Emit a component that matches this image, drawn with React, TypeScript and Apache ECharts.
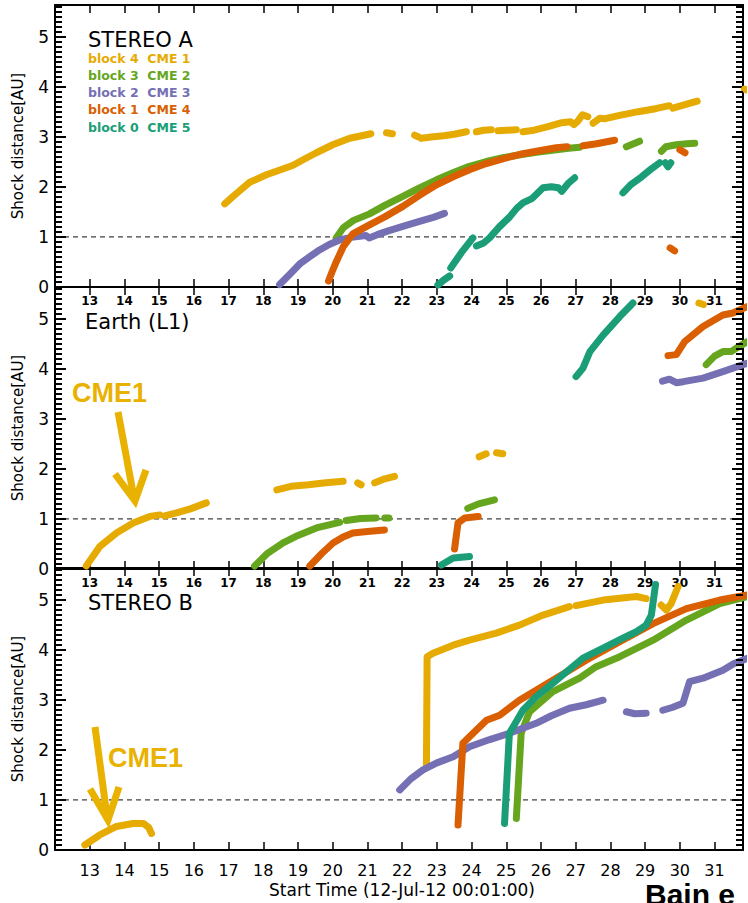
import React, { useEffect, useRef } from 'react';
import * as echarts from 'echarts';

type Pt = [number, number];
type Seg = Pt[];

// ---------- axes / labels ----------
const dayTicks = [13, 14, 15, 16, 17, 18, 19, 20, 21, 22, 23, 24, 25, 26, 27, 28, 29, 30, 31];
const dayTickLabels = dayTicks.map(String);
const auTicks = [0, 1, 2, 3, 4, 5];
const auTickLabels = ['0', '1', '2', '3', '4', '5'];
const X_MIN = 12;
const X_MAX = 31.82;
const Y_MIN = 0;
const Y_MAX = 5.63;
const MINOR_STEP = 0.1;
const REF_LEVEL = 1;
const yTitle = 'Shock distance[AU]';
const xTitle = 'Start Time (12-Jul-12 00:01:00)';
const panelTitles = ['STEREO A', 'Earth (L1)', 'STEREO B'];
const legendLabels = ['block 4  CME 1', 'block 3  CME 2', 'block 2  CME 3', 'block 1  CME 4', 'block 0  CME 5'];
const cmeColors = ['#E6AB02', '#66A61E', '#7570B3', '#D95F02', '#1B9E77'];
const annotationText = 'CME1';
const citation = 'Bain e';

// minor tick positions on the distance axis (every 0.1 AU, skipping integers)
const minorAuTicks: number[] = [];
for (let k = 1; k * MINOR_STEP < Y_MAX; k++) {
  if (k % 10 !== 0) minorAuTicks.push(Math.round(k * MINOR_STEP * 100) / 100);
}

// ---------- STEREO A ----------
const stA_cme1: Seg[] = [
  [[16.89, 1.66], [17.13, 1.81], [17.4, 1.97], [17.61, 2.09], [18.09, 2.24], [18.5, 2.34], [18.86, 2.43], [19.2, 2.56], [19.53, 2.68], [20.0, 2.84], [20.49, 2.97], [20.97, 3.04], [21.1, 3.06]],
  [[21.55, 3.08], [21.72, 3.06]],
  [[22.36, 3.03], [22.46, 3.0]],
  [[22.55, 2.97], [22.9, 3.0], [23.2, 3.02], [23.5, 3.05], [23.85, 3.1]],
  [[24.14, 3.1], [24.35, 3.13], [24.57, 3.14]],
  [[24.76, 3.12], [25.0, 3.13], [25.29, 3.14]],
  [[25.48, 3.1], [25.8, 3.13], [26.2, 3.2], [26.6, 3.28], [26.85, 3.3], [26.95, 3.24], [27.05, 3.3], [27.2, 3.44], [27.35, 3.4]],
  [[27.5, 3.27], [27.7, 3.37], [27.85, 3.36], [28.3, 3.43], [28.8, 3.5], [29.3, 3.56], [29.7, 3.62]],
  [[29.8, 3.57], [30.1, 3.63], [30.5, 3.71]],
  [[31.86, 3.95], [31.95, 3.93]],
];
const stA_cme2: Seg[] = [
  [[20.1, 0.98], [20.3, 1.18], [20.6, 1.33], [21.06, 1.46], [21.5, 1.63], [22.02, 1.81], [22.5, 1.98], [22.99, 2.14], [23.5, 2.29], [23.94, 2.41], [24.4, 2.5], [24.9, 2.58], [25.4, 2.64], [25.87, 2.69], [26.44, 2.74], [26.8, 2.77], [27.11, 2.79]],
  [[28.46, 2.8], [28.84, 2.91]],
  [[29.47, 2.71], [29.6, 2.8], [29.9, 2.84], [30.2, 2.86], [30.43, 2.87]],
];
const stA_cme3: Seg[] = [
  [[18.47, 0.05], [18.8, 0.28], [19.05, 0.46], [19.35, 0.61], [19.62, 0.74], [19.9, 0.85], [20.2, 0.94], [20.6, 1.0], [20.95, 1.03], [21.05, 0.98], [21.3, 1.05], [21.6, 1.12], [22.02, 1.21], [22.5, 1.31], [22.9, 1.39], [23.22, 1.47]],
];
const stA_cme4: Seg[] = [
  [[19.88, 0.12], [19.98, 0.3], [20.1, 0.5], [20.3, 0.8], [20.58, 1.06], [21.06, 1.24], [21.5, 1.4], [22.02, 1.61], [22.5, 1.83], [22.99, 2.04], [23.5, 2.21], [23.94, 2.34], [24.4, 2.46], [24.9, 2.56], [25.4, 2.65], [25.87, 2.71], [26.44, 2.78], [26.75, 2.8]],
  [[27.21, 2.82], [27.6, 2.86], [28.12, 2.93]],
  [[29.72, 0.78], [29.85, 0.72]],
  [[30.0, 2.74], [30.15, 2.68]],
];
const stA_cme5: Seg[] = [
  [[23.03, 0.04], [23.2, 0.14], [23.37, 0.22]],
  [[23.4, 0.38], [23.7, 0.68], [24.04, 0.98]],
  [[24.14, 0.82], [24.35, 0.88], [24.52, 0.98], [24.8, 1.2], [25.1, 1.4], [25.3, 1.57], [25.48, 1.68], [25.75, 1.77], [26.06, 1.98], [26.3, 2.0], [26.5, 1.98], [26.6, 1.91], [26.8, 2.08], [26.97, 2.18]],
  [[28.36, 1.88], [28.6, 2.05], [28.9, 2.2], [29.2, 2.37], [29.42, 2.48]],
  [[29.58, 2.48], [29.66, 2.4], [29.74, 2.48]],
];

// ---------- Earth (L1) ----------
const earth_cme1: Seg[] = [
  [[12.9, 0.06], [13.29, 0.45], [13.77, 0.72], [14.25, 0.92], [14.73, 1.05], [15.02, 1.08]],
  [[15.16, 1.06], [15.5, 1.12], [15.9, 1.2], [16.36, 1.32]],
  [[18.39, 1.58], [18.8, 1.65], [19.3, 1.68], [19.8, 1.72], [20.3, 1.75]],
  [[20.72, 1.72], [20.82, 1.68]],
  [[21.21, 1.72], [21.5, 1.8], [21.78, 1.85]],
  [[24.22, 2.24], [24.42, 2.3]],
  [[24.72, 2.32], [24.9, 2.3]],
  [[30.55, 5.31], [30.68, 5.28]],
];
const earth_cme2: Seg[] = [
  [[17.75, 0.06], [18.1, 0.3], [18.57, 0.52], [19.0, 0.67], [19.53, 0.82], [20.2, 0.93]],
  [[20.39, 0.97], [20.8, 1.01], [21.25, 1.02]],
  [[21.5, 1.02], [21.62, 1.02]],
  [[23.89, 1.21], [24.2, 1.3], [24.66, 1.38]],
  [[30.76, 4.08], [31.0, 4.25], [31.24, 4.34], [31.48, 4.34], [31.63, 4.41], [31.95, 4.54]],
];
const earth_cme3: Seg[] = [
  [[29.5, 3.75], [29.7, 3.79], [29.9, 3.72], [30.1, 3.74], [30.67, 3.81], [31.24, 3.94], [31.95, 4.11]],
];
const earth_cme4: Seg[] = [
  [[19.34, 0.06], [19.7, 0.32], [20.01, 0.52], [20.3, 0.64], [20.58, 0.72], [21.0, 0.75], [21.49, 0.78]],
  [[23.51, 0.4], [23.61, 0.92], [23.81, 1.02], [24.19, 1.05]],
  [[29.66, 4.26], [29.9, 4.28], [30.14, 4.54], [30.67, 4.84], [31.24, 5.07], [31.53, 5.11], [31.95, 5.24]],
];
const earth_cme5: Seg[] = [
  [[23.13, 0.08], [23.47, 0.22], [23.94, 0.25]],
  [[27.01, 3.84], [27.21, 4.01], [27.41, 4.34], [27.79, 4.67], [28.27, 5.04], [28.65, 5.31]],
];

// ---------- STEREO B ----------
const stB_cme1: Seg[] = [
  [[12.86, 0.1], [13.29, 0.3], [13.77, 0.47], [14.25, 0.53], [14.55, 0.53], [14.7, 0.45], [14.78, 0.33]],
  [[22.7, 1.7], [22.72, 3.86], [22.89, 3.93], [23.47, 4.09], [23.94, 4.19], [24.71, 4.33], [25.38, 4.49], [26.06, 4.69], [26.82, 4.86]],
  [[27.01, 4.88], [27.79, 4.99], [28.75, 5.06], [29.03, 5.02]],
  [[29.46, 4.89], [29.61, 4.79], [29.75, 4.92], [29.95, 5.26]],
];
const stB_cme2: Seg[] = [
  [[25.29, 0.63], [25.43, 2.33], [25.67, 2.76], [26.34, 3.16], [27.11, 3.43], [27.59, 3.66], [28.27, 3.86], [29.23, 4.19], [30.19, 4.59], [31.15, 4.92], [31.95, 5.06]],
];
const stB_cme3: Seg[] = [
  [[21.93, 1.2], [22.25, 1.42], [22.6, 1.6], [23.0, 1.74], [23.47, 1.86], [23.94, 2.06], [24.5, 2.2], [25.09, 2.33], [25.86, 2.53], [26.3, 2.68], [26.82, 2.83], [27.3, 2.9], [27.79, 2.99]],
  [[28.46, 2.76], [28.7, 2.72], [29.03, 2.73]],
  [[29.51, 2.79], [29.8, 2.85], [30.09, 2.93], [30.28, 3.36], [30.67, 3.43], [31.24, 3.59], [31.55, 3.72], [31.95, 3.83]],
];
const stB_cme4: Seg[] = [
  [[23.61, 0.5], [23.75, 2.13], [23.94, 2.26], [24.43, 2.59], [24.81, 2.69], [25.38, 2.99], [26.34, 3.39], [27.3, 3.79], [28.27, 4.16], [29.23, 4.52], [30.19, 4.82], [31.15, 4.99], [31.95, 5.09]],
];
const stB_cme5: Seg[] = [
  [[24.95, 0.53], [25.09, 2.33], [25.48, 2.79], [25.86, 3.06], [26.34, 3.33], [27.21, 3.83], [27.79, 4.03], [28.36, 4.23], [28.75, 4.36], [29.03, 4.49], [29.18, 4.69], [29.3, 5.3]],
];

const panelData: Seg[][][] = [
  [stA_cme1, stA_cme2, stA_cme3, stA_cme4, stA_cme5],
  [earth_cme1, earth_cme2, earth_cme3, earth_cme4, earth_cme5],
  [stB_cme1, stB_cme2, stB_cme3, stB_cme4, stB_cme5],
];

// ---------- layout ----------
const GRID_LEFT = 55;
const GRID_W = 688;
const GRID_H = 282;
const gridTops = [5, 287, 568];
const FONT = 'DejaVu Sans';
const GOLD = '#E9B100';
const MINOR_LEN = 7;

function txt(x: number, y: number, text: string, fill: string, fontSize: number, fontWeight = 'normal', fontFamily = FONT, align = 'left') {
  return {
    type: 'text', x, y, silent: true, z: 50,
    style: { text, fill, fontSize, fontWeight, fontFamily, textAlign: align, textVerticalAlign: 'middle' },
  };
}
function arrowLine(points: number[][]) {
  return {
    type: 'polyline', silent: true, z: 50,
    shape: { points },
    style: { stroke: GOLD, lineWidth: 7, fill: null, lineJoin: 'miter', lineCap: 'butt' },
  };
}

function baseGraphic(): any[] {
  return [
    txt(88, 40, panelTitles[0], '#000', 21),
    txt(85, 322, panelTitles[1], '#000', 21),
    txt(88, 603, panelTitles[2], '#000', 21),
    ...legendLabels.map((l, i) => txt(88, 58 + i * 17.3, l, cmeColors[i], 12.5, 'bold')),
    txt(402, 890, xTitle, '#000', 17, 'normal', FONT, 'center'),
    txt(72, 393, annotationText, GOLD, 27, 'bold', 'Liberation Sans'),
    arrowLine([[118, 412], [134, 498]]),
    arrowLine([[115, 474], [135, 501], [146, 470]]),
    txt(108, 758, annotationText, GOLD, 27, 'bold', 'Liberation Sans'),
    arrowLine([[95, 727], [107, 816]]),
    arrowLine([[90, 789], [108, 820], [119, 787]]),
    txt(645, 894, citation, '#000', 30, 'bold', 'Liberation Sans'),
  ];
}

function buildOption() {
  const grid = gridTops.map((t) => ({ left: GRID_LEFT, top: t, width: GRID_W, height: GRID_H }));
  const xFmt = (v: number) => {
    const r = Math.round(v);
    const i = dayTicks.indexOf(r);
    return Math.abs(v - r) < 1e-6 && i >= 0 ? dayTickLabels[i] : '';
  };
  const yFmt = (v: number) => {
    const r = Math.round(v);
    const i = auTicks.indexOf(r);
    return Math.abs(v - r) < 1e-6 && i >= 0 ? auTickLabels[i] : '';
  };
  const xAxis: any[] = [];
  const yAxis: any[] = [];
  gridTops.forEach((_, i) => {
    const isLast = i === gridTops.length - 1;
    const base = {
      type: 'value', gridIndex: i, min: X_MIN, max: X_MAX, interval: 1,
      splitLine: { show: false },
      axisLine: { show: true, onZero: false, lineStyle: { color: '#000', width: 2 } },
      axisTick: { show: true, inside: true, length: 8, lineStyle: { color: '#000', width: 1.5 } },
    };
    xAxis.push({
      ...base, position: 'bottom',
      axisLabel: {
        show: true, margin: isLast ? 12 : 8, fontSize: isLast ? 16 : 12,
        fontWeight: isLast ? 'normal' : 'bold', color: '#000', fontFamily: FONT, formatter: xFmt,
      },
    });
    xAxis.push({ ...base, position: 'top', axisLabel: { show: false } });

    const yBase = {
      type: 'value', gridIndex: i, min: Y_MIN, max: Y_MAX, interval: 1, splitLine: { show: false },
      axisLine: { show: true, onZero: false, lineStyle: { color: '#000', width: 2 } },
      axisTick: { show: true, inside: true, length: 11, lineStyle: { color: '#000', width: 2 } },
    };
    yAxis.push({
      ...yBase, position: 'left',
      axisLabel: { show: true, fontSize: 17, color: '#000', fontFamily: FONT, margin: 6, formatter: yFmt },
      name: yTitle, nameLocation: 'middle', nameGap: 30,
      nameTextStyle: { fontSize: 15, color: '#000', fontFamily: FONT },
    });
    yAxis.push({ ...yBase, position: 'right', axisLabel: { show: false } });
  });

  const series: any[] = [];
  panelData.forEach((cmes, p) => {
    series.push({
      type: 'line', xAxisIndex: 2 * p, yAxisIndex: 2 * p, silent: true,
      data: [[X_MIN, REF_LEVEL], [X_MAX, REF_LEVEL]], symbol: 'none',
      lineStyle: { color: '#111', width: 1, type: [5, 4] }, z: 1,
    });
    cmes.forEach((segs, c) => {
      segs.forEach((seg) => {
        series.push({
          type: 'line', name: legendLabels[c], xAxisIndex: 2 * p, yAxisIndex: 2 * p,
          data: seg, symbol: 'none', clip: false, silent: true, z: 2 + c,
          lineStyle: { color: cmeColors[c], width: 7, cap: 'round', join: 'round' },
        });
      });
    });
  });

  return { animation: false, backgroundColor: '#fff', grid, xAxis, yAxis, series, graphic: baseGraphic() };
}

export default function App() {
  const ref = useRef<HTMLDivElement>(null);
  useEffect(() => {
    const chart = echarts.init(ref.current!, null, { renderer: 'svg' });
    chart.setOption(buildOption() as any);
    // minor ticks (every 0.1 AU) on the left and right frames, placed through the axes' scales
    const ticks: any[] = [];
    gridTops.forEach((_, p) => {
      minorAuTicks.forEach((v) => {
        const l = chart.convertToPixel({ gridIndex: p } as any, [X_MIN, v]) as number[];
        const r = chart.convertToPixel({ gridIndex: p } as any, [X_MAX, v]) as number[];
        if (!l || !r) return;
        const y = Math.round(l[1]);
        ticks.push({
          type: 'line', silent: true, z: 40,
          shape: { x1: l[0], y1: y, x2: l[0] + MINOR_LEN, y2: y },
          style: { stroke: '#000', lineWidth: 2 },
        });
        ticks.push({
          type: 'line', silent: true, z: 40,
          shape: { x1: r[0], y1: y, x2: r[0] - MINOR_LEN, y2: y },
          style: { stroke: '#000', lineWidth: 2 },
        });
      });
    });
    chart.setOption({ graphic: [...baseGraphic(), ...ticks] } as any);
    return () => chart.dispose();
  }, []);
  return (
    <div
      ref={ref}
      style={{ position: 'fixed', left: 0, top: 0, width: 748, height: 903, background: '#fff' }}
    />
  );
}
